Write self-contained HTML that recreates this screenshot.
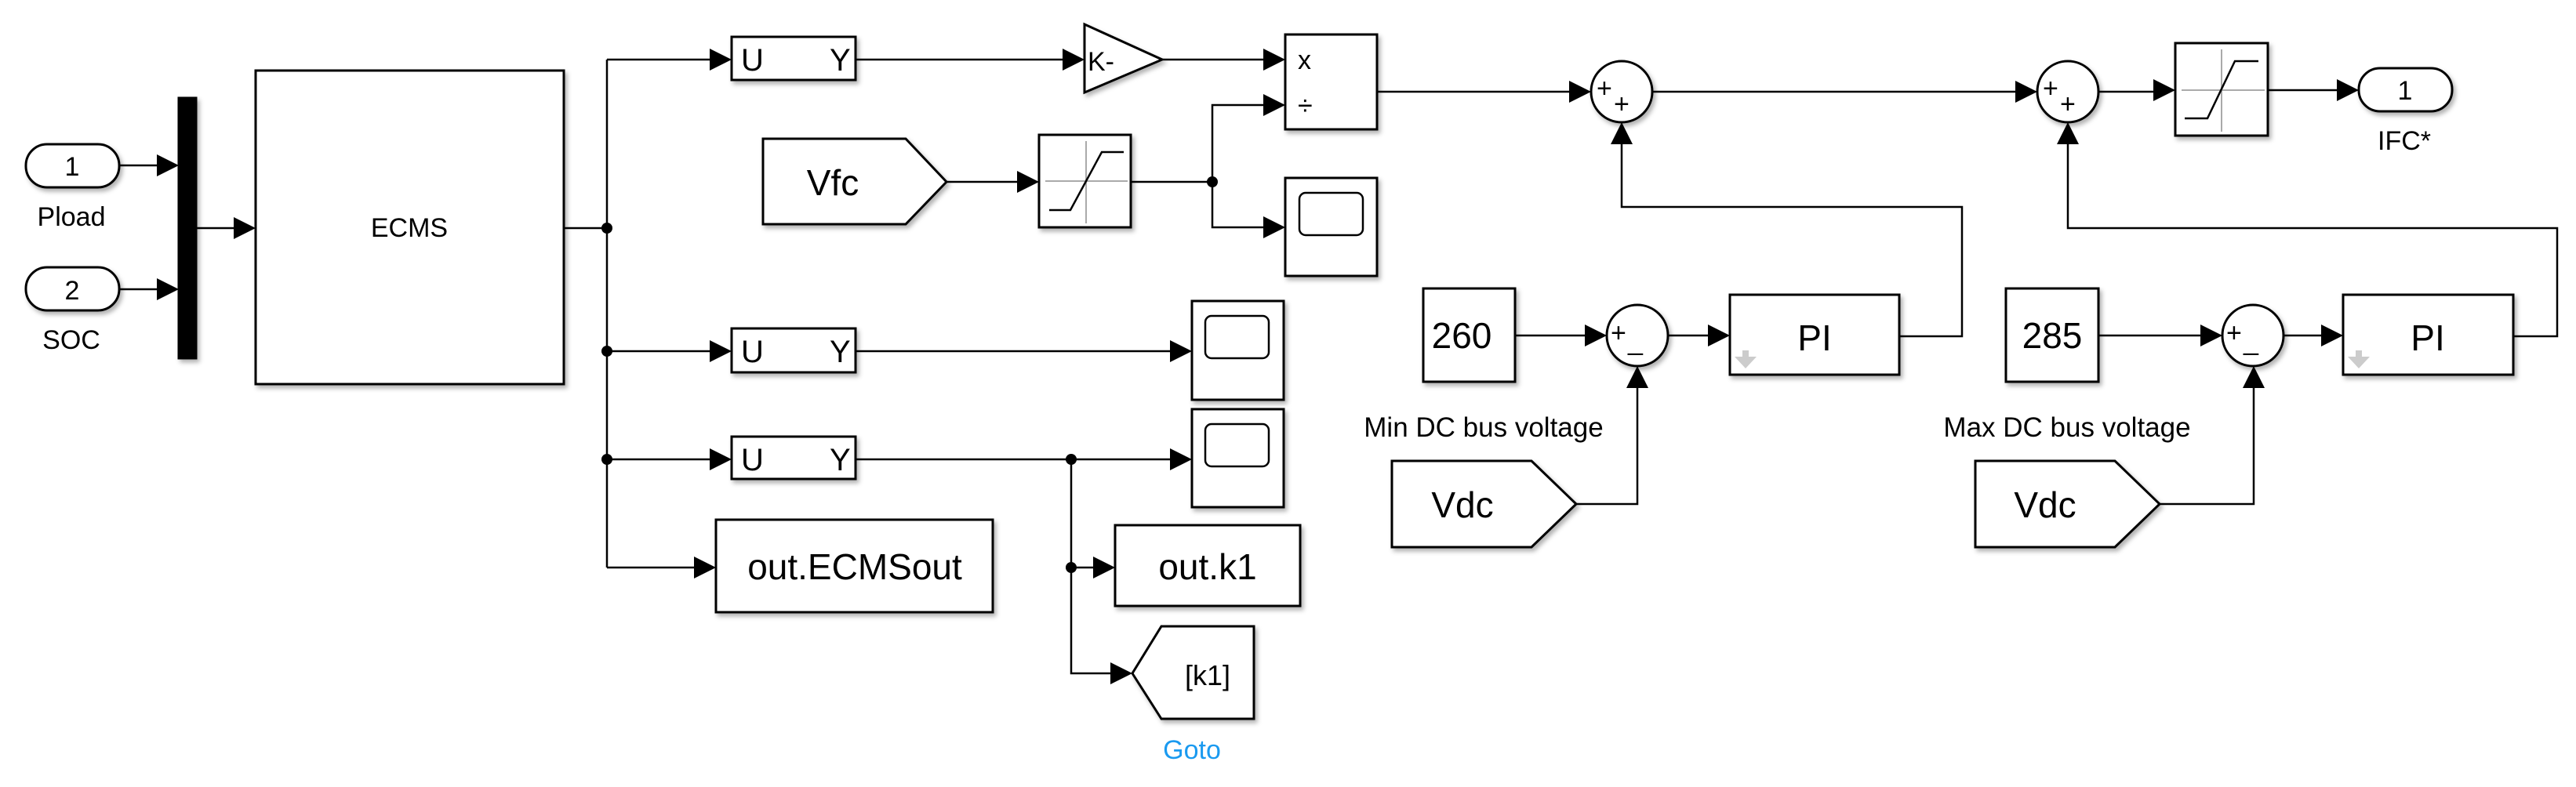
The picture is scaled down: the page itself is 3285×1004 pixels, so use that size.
<!DOCTYPE html>
<html><head><meta charset="utf-8"><style>
html,body{margin:0;padding:0;background:#fff;}
svg{display:block;}
text{font-family:"Liberation Sans",sans-serif;fill:#000;}
</style></head><body>
<svg width="3285" height="1004" viewBox="0 0 3285 1004" xmlns="http://www.w3.org/2000/svg">
<defs>
<filter id="sh" x="-10%" y="-10%" width="130%" height="130%">
<feDropShadow dx="3" dy="4" stdDeviation="3" flood-color="#000" flood-opacity="0.3"/>
</filter>
</defs>

<g fill="#fff" stroke="#000" stroke-width="3" filter="url(#sh)">
<rect x="33" y="184" width="119" height="55" rx="27"/>
<rect x="33" y="341" width="119" height="55" rx="27"/>
<rect x="228" y="125" width="22" height="332" fill="#000"/>
<rect x="326" y="90" width="393" height="400"/>
<rect x="933" y="47" width="158" height="55"/>
<rect x="933" y="419" width="158" height="56"/>
<rect x="933" y="557" width="158" height="54"/>
<rect x="913" y="663" width="353" height="118"/>
<polygon points="973,177 1155,177 1207,232 1155,286 973,286"/>
<rect x="1325" y="172" width="117" height="118"/>
<polygon points="1383,31 1482,76 1383,118"/>
<rect x="1639" y="44" width="117" height="121"/>
<rect x="1639" y="227" width="117" height="125"/>
<rect x="1520" y="384" width="117" height="126"/>
<rect x="1520" y="522" width="117" height="125"/>
<rect x="1422" y="670" width="236" height="103"/>
<polygon points="1481,799 1599,799 1599,917 1481,917 1444,859"/>
<circle cx="2068" cy="117" r="39"/>
<rect x="1815" y="368" width="117" height="119"/>
<circle cx="2088" cy="428" r="39"/>
<rect x="2206" y="376" width="216" height="102"/>
<polygon points="1775,588 1953,588 2010,643 1953,698 1775,698"/>
<circle cx="2637" cy="117" r="39"/>
<rect x="2774" y="55" width="118" height="118"/>
<rect x="3008" y="87" width="119" height="55" rx="27"/>
<rect x="2558" y="368" width="118" height="119"/>
<circle cx="2873" cy="428" r="39"/>
<rect x="2988" y="376" width="217" height="102"/>
<polygon points="2519,588 2697,588 2754,643 2697,698 2519,698"/>
</g>

<g stroke="#aaa" stroke-width="2">
<line x1="1333" y1="231" x2="1438" y2="231"/><line x1="1385" y1="180" x2="1385" y2="285"/>
<line x1="2782" y1="115" x2="2888" y2="115"/><line x1="2833" y1="63" x2="2833" y2="168"/>
</g>
<g fill="none" stroke="#000" stroke-width="2.5">
<polyline points="1338,268 1365,268 1405,194 1433,194"/>
<polyline points="2786,151 2815,151 2850,78 2880,78"/>
<rect x="1657" y="246" width="81" height="54" rx="8"/>
<rect x="1537" y="403" width="81" height="54" rx="8"/>
<rect x="1537" y="541" width="81" height="54" rx="8"/>
</g>
<g fill="#ccc">
<polygon points="2212,455 2222,455 2222,447 2230,447 2230,455 2240,455 2226,470"/>
<polygon points="2994,455 3004,455 3004,447 3012,447 3012,455 3022,455 3008,470"/>
</g>

<g fill="none" stroke="#000" stroke-width="2.5">
<line x1="152" y1="211" x2="210" y2="211"/>
<line x1="152" y1="369" x2="210" y2="369"/>
<line x1="250" y1="291" x2="308" y2="291"/>
<line x1="719" y1="291" x2="774" y2="291"/>
<line x1="774" y1="76" x2="774" y2="724"/>
<line x1="774" y1="76" x2="915" y2="76"/>
<line x1="774" y1="448" x2="915" y2="448"/>
<line x1="774" y1="586" x2="915" y2="586"/>
<line x1="774" y1="724" x2="895" y2="724"/>
<line x1="1091" y1="76" x2="1365" y2="76"/>
<line x1="1482" y1="76" x2="1621" y2="76"/>
<line x1="1207" y1="232" x2="1307" y2="232"/>
<line x1="1442" y1="232" x2="1546" y2="232"/>
<polyline points="1621,134 1546,134 1546,290 1621,290"/>
<line x1="1756" y1="117" x2="2011" y2="117"/>
<line x1="1091" y1="448" x2="1502" y2="448"/>
<line x1="1091" y1="586" x2="1502" y2="586"/>
<polyline points="1366,586 1366,859 1426,859"/>
<line x1="1366" y1="724" x2="1404" y2="724"/>
<line x1="1932" y1="428" x2="2031" y2="428"/>
<line x1="2127" y1="428" x2="2188" y2="428"/>
<polyline points="2010,643 2088,643 2088,485"/>
<polyline points="2422,429 2502,429 2502,264 2068,264 2068,174"/>
<line x1="2107" y1="117" x2="2580" y2="117"/>
<line x1="2677" y1="117" x2="2756" y2="117"/>
<line x1="2892" y1="115" x2="2990" y2="115"/>
<line x1="2676" y1="428" x2="2816" y2="428"/>
<line x1="2912" y1="428" x2="2970" y2="428"/>
<polyline points="2754,643 2874,643 2874,485"/>
<polyline points="3205,429 3261,429 3261,291 2637,291 2637,174"/>
</g>

<g fill="#000">
<polygon points="200,197 228,211 200,225"/>
<polygon points="200,355 228,369 200,383"/>
<polygon points="298,277 326,291 298,305"/>
<polygon points="905,62 933,76 905,90"/>
<polygon points="905,434 933,448 905,462"/>
<polygon points="905,572 933,586 905,600"/>
<polygon points="885,710 913,724 885,738"/>
<polygon points="1355,62 1383,76 1355,90"/>
<polygon points="1611,62 1639,76 1611,90"/>
<polygon points="1297,218 1325,232 1297,246"/>
<polygon points="1611,120 1639,134 1611,148"/>
<polygon points="1611,276 1639,290 1611,304"/>
<polygon points="2001,103 2029,117 2001,131"/>
<polygon points="1492,434 1520,448 1492,462"/>
<polygon points="1492,572 1520,586 1492,600"/>
<polygon points="1394,710 1422,724 1394,738"/>
<polygon points="1416,845 1444,859 1416,873"/>
<polygon points="2021,414 2049,428 2021,442"/>
<polygon points="2178,414 2206,428 2178,442"/>
<polygon points="2074,495 2088,467 2102,495"/>
<polygon points="2054,184 2068,156 2082,184"/>
<polygon points="2570,103 2598,117 2570,131"/>
<polygon points="2746,101 2774,115 2746,129"/>
<polygon points="2980,101 3008,115 2980,129"/>
<polygon points="2806,414 2834,428 2806,442"/>
<polygon points="2960,414 2988,428 2960,442"/>
<polygon points="2860,495 2874,467 2888,495"/>
<polygon points="2623,184 2637,156 2651,184"/>
</g>
<g fill="#000">
<circle cx="774" cy="291" r="7"/>
<circle cx="774" cy="448" r="7"/>
<circle cx="774" cy="586" r="7"/>
<circle cx="1546" cy="232" r="7"/>
<circle cx="1366" cy="586" r="7"/>
<circle cx="1366" cy="724" r="7"/>
</g>

<g font-size="34" text-anchor="middle">
<text x="92" y="224">1</text>
<text x="92" y="382">2</text>
<text x="91" y="288">Pload</text>
<text x="91" y="445">SOC</text>
<text x="3067" y="127">1</text>
<text x="3066" y="191">IFC*</text>
<text x="522" y="302">ECMS</text>
</g>
<g font-size="40">
<text x="945" y="90">U</text><text x="1058" y="90">Y</text>
<text x="945" y="462">U</text><text x="1058" y="462">Y</text>
<text x="945" y="600">U</text><text x="1058" y="600">Y</text>
</g>
<g font-size="46" text-anchor="middle">
<text x="1090" y="739">out.ECMSout</text>
<text x="1540" y="739">out.k1</text>
<text x="1062" y="249">Vfc</text>
<text x="1864" y="444">260</text>
<text x="2617" y="444">285</text>
<text x="1865" y="660">Vdc</text>
<text x="2608" y="660">Vdc</text>
<text x="2314" y="447">PI</text>
<text x="3096" y="447">PI</text>
</g>
<text x="1540" y="874" font-size="36" text-anchor="middle">[k1]</text>
<text x="1520" y="968" font-size="34" text-anchor="middle" style="fill:#1a9af0">Goto</text>
<text x="1892" y="557" font-size="35" text-anchor="middle">Min DC bus voltage</text>
<text x="2636" y="557" font-size="35" text-anchor="middle">Max DC bus voltage</text>
<text x="1387" y="90" font-size="34">K-</text>
<text x="1655" y="88" font-size="34">x</text>
<text x="1655" y="146" font-size="34">÷</text>
<g font-size="34">
<text x="2036" y="124">+</text><text x="2058" y="144">+</text>
<text x="2605" y="124">+</text><text x="2627" y="144">+</text>
<text x="2054" y="436">+</text><text x="2076" y="446">_</text>
<text x="2839" y="436">+</text><text x="2861" y="446">_</text>
</g>
</svg>
</body></html>
